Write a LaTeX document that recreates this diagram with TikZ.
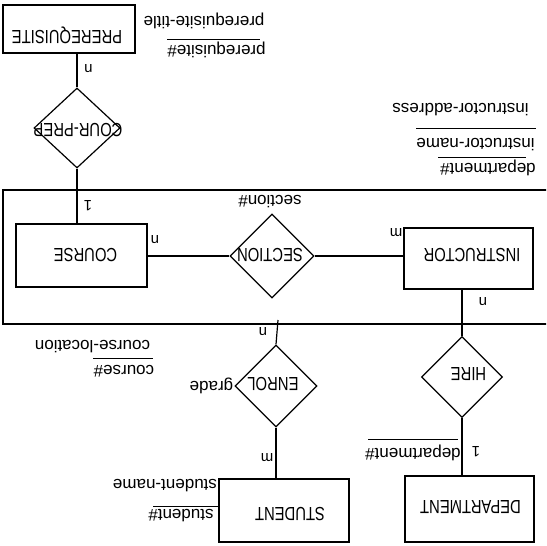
\documentclass[tikz,border=0pt]{standalone}
\usepackage{fontspec}
\setmainfont{Liberation Sans}
\newfontfamily\boxfont[FakeStretch=0.78]{Liberation Sans}
\usetikzlibrary{shapes.geometric}
\tikzset{
  ent/.style={draw=black, line width=1.2pt, inner sep=0pt},
  rel/.style={draw=black, diamond, line width=1.2pt, inner sep=0pt, minimum width=82pt, minimum height=82pt},
  agg/.style={draw=black, line width=1.2pt, inner sep=0pt},
  link/.style={draw=black, line width=1.2pt},
  uline/.style={draw=black, line width=1pt},
  etxt/.style={rotate=180, inner sep=0pt, font=\boxfont\fontsize{19}{19}\selectfont},
  lab/.style={rotate=180, inner sep=0pt, font=\fontsize{17}{17}\selectfont},
  card/.style={rotate=180, inner sep=0pt, font=\fontsize{15}{15}\selectfont},
}
\begin{document}
\begin{tikzpicture}[x=1pt, y=-1pt]
  \useasboundingbox[fill=white] (0,0) rectangle (546,546);
  \clip (0,0) rectangle (546,546);
  % aggregate
  \node[agg, minimum width=557pt, minimum height=134pt] (agg) at (281.5,257) {};
  % entities
  \node[ent, minimum width=132pt, minimum height=48pt] (prereq) at (69,29) {};
  \node[ent, minimum width=131pt, minimum height=63pt] (course) at (81.5,255.5) {};
  \node[ent, minimum width=129pt, minimum height=61pt] (instr) at (468.5,258.5) {};
  \node[ent, minimum width=129pt, minimum height=66pt] (dept) at (469.5,509) {};
  \node[ent, minimum width=130pt, minimum height=63pt] (stud) at (284,510.5) {};
  \node[etxt] (prereqtxt) at (67,35) {PREREQUISITE};
  \node[etxt] (coursetxt) at (85.5,255) {COURSE};
  \node[etxt] (instrtxt) at (472,255.5) {INSTRUCTOR};
  \node[etxt] (depttxt) at (470.5,507) {DEPARTMENT};
  \node[etxt] (studtxt) at (290,514.5) {STUDENT};
  % relationships
  \node[rel, minimum width=86pt, minimum height=80pt] (courprep) at (77,128) {};
  \node[rel, minimum width=84pt, minimum height=84pt] (section) at (272,256) {};
  \node[rel, minimum width=81pt, minimum height=81pt] (hire) at (462,377) {};
  \node[rel, minimum width=82pt, minimum height=82pt] (enrol) at (276,386) {};
  \node[etxt] (courpreptxt) at (78,130) {COUR-PREP};
  \node[etxt] (sectiontxt) at (270,255.5) {SECTION};
  \node[etxt] (hiretxt) at (468.5,374) {HIRE};
  \node[etxt] (enroltxt) at (273,384) {ENROL};
  % connectors
  \coordinate (enroltop) at (278,320);
  \draw[link] (courprep.north) -- (courprep.north |- prereq.south);
  \draw[link] (courprep.south) -- (courprep.south |- course.north);
  \draw[link] (course.east |- section.west) -- (section.west);
  \draw[link] (section.east) -- (section.east -| instr.west);
  \draw[link] (hire.north) -- (hire.north |- instr.south);
  \draw[link] (hire.south) -- (hire.south |- dept.north);
  \draw[link] (enrol.north) -- (enroltop);
  \draw[link] (enrol.south) -- (enrol.south |- stud.north);
  % cardinalities
  \node[card] (c1) at (88.5,68.5) {n};
  \node[card] (c2) at (88,206) {1};
  \node[card] (c3) at (155,240) {n};
  \node[card] (c4) at (396,233) {m};
  \node[card] (c5) at (483,302) {n};
  \node[card] (c6) at (263,332) {n};
  \node[card] (c7) at (267,458) {m};
  \node[card] (c8) at (476,452) {1};
  % attributes
  \node[lab] (prtitle) at (204,20.5) {prerequisite-title};
  \node[lab] (prnum) at (216.5,49.5) {prerequisite\#};
  \draw[uline] (167,39) -- (260,39);
  \node[lab] (secnum) at (270,202) {section\#};
  \node[lab] (inaddr) at (460.5,110) {instructor-address};
  \node[lab] (inname) at (475.5,145) {instructor-name};
  \node[lab] (indept) at (488,167.5) {department\#};
  \draw[uline] (416,128) -- (536,128);
  \draw[uline] (438,157) -- (526,157);
  \node[lab] (coloc) at (92.5,346.5) {course-location};
  \node[lab] (conum) at (124,371.5) {course\#};
  \draw[uline] (93,358) -- (153,358);
  \node[lab] (grade) at (211.5,385.5) {grade};
  \node[lab] (hdept) at (413,452.5) {department\#};
  \draw[uline] (368,439) -- (458,439);
  \node[lab] (stname) at (165,486) {student-name};
  \node[lab] (stnum) at (181,516) {student\#};
  \draw[uline] (153,506) -- (218,506);
\end{tikzpicture}
\end{document}
